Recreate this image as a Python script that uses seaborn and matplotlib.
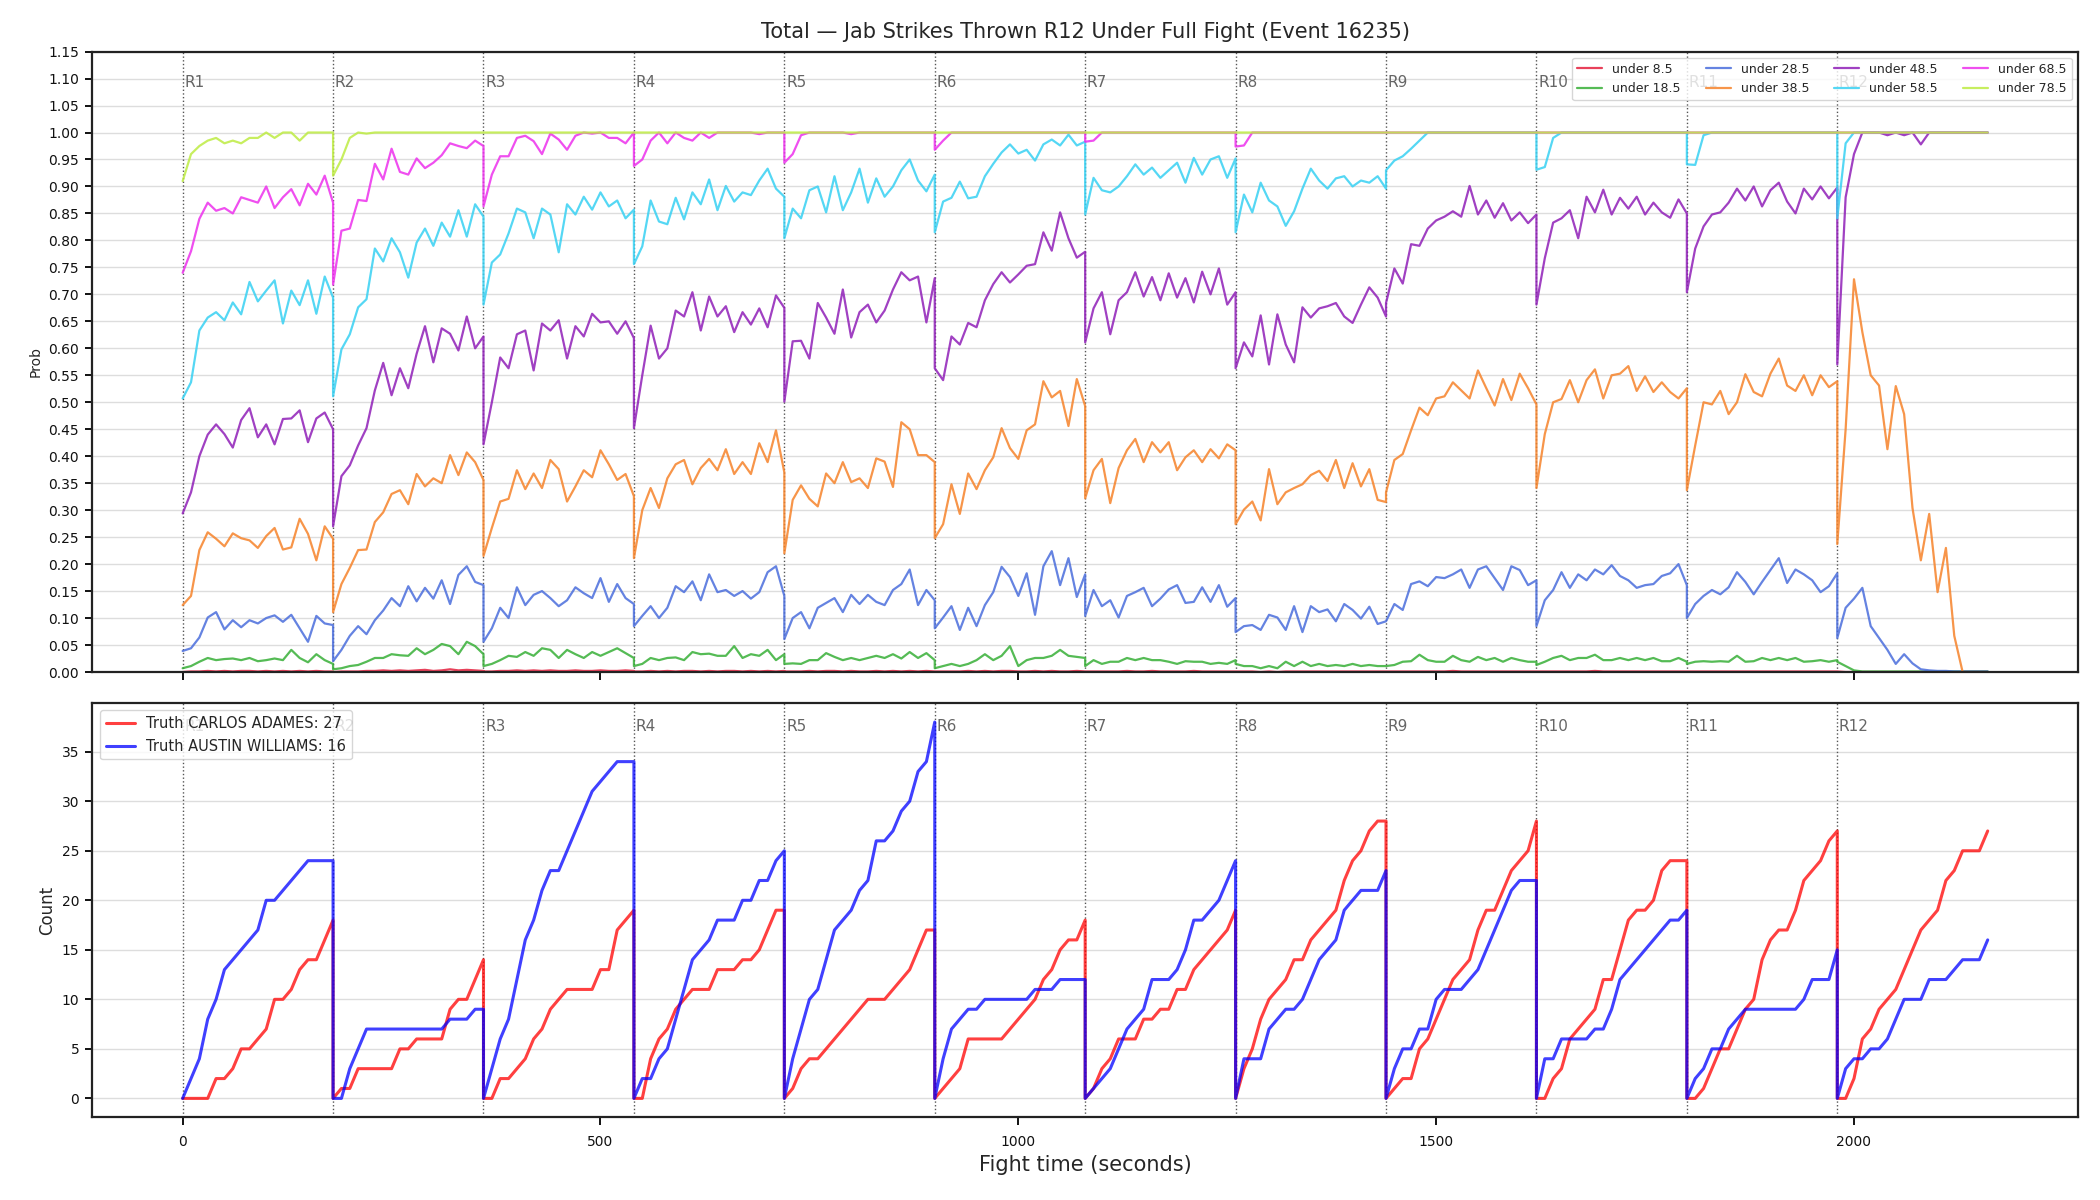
import pandas as pd
import seaborn as sns
import matplotlib.pyplot as plt

# fight structure
round_names = ["R1", "R2", "R3", "R4", "R5", "R6", "R7", "R8", "R9", "R10", "R11", "R12"]
round_len = 180
sample_step = 10
line_labels = ["under 8.5", "under 18.5", "under 28.5", "under 38.5",
               "under 48.5", "under 58.5", "under 68.5", "under 78.5"]
line_colors = ["#e41f3d", "#37af37", "#4a6ddc", "#f6832a",
               "#901fb8", "#37d1f3", "#ed30ed", "#beec43"]
fighter_names = ["CARLOS ADAMES", "AUSTIN WILLIAMS"]

# P(total jabs under line), one list per round, sampled every 10 s
under_8_5 = [
    [0.0, 0.001, 0.001, 0.002, 0.001, 0.002, 0.001, 0.002, 0.002, 0.001, 0.002, 0.001, 0.002, 0.001, 0.002, 0.001, 0.002, 0.001, 0.001],
    [0.0, 0.001, 0.001, 0.001, 0.002, 0.002, 0.003, 0.002, 0.003, 0.002, 0.003, 0.004, 0.002, 0.003, 0.005, 0.003, 0.004, 0.003, 0.002],
    [0.001, 0.001, 0.002, 0.002, 0.003, 0.002, 0.003, 0.002, 0.003, 0.002, 0.002, 0.003, 0.002, 0.002, 0.003, 0.002, 0.002, 0.003, 0.002],
    [0.001, 0.001, 0.002, 0.001, 0.002, 0.001, 0.002, 0.002, 0.001, 0.002, 0.001, 0.002, 0.002, 0.001, 0.002, 0.001, 0.002, 0.001, 0.002],
    [0.001, 0.001, 0.001, 0.002, 0.001, 0.002, 0.002, 0.001, 0.002, 0.001, 0.001, 0.002, 0.001, 0.002, 0.001, 0.002, 0.001, 0.002, 0.001],
    [0.001, 0.001, 0.001, 0.001, 0.002, 0.001, 0.002, 0.001, 0.002, 0.002, 0.001, 0.001, 0.002, 0.001, 0.002, 0.001, 0.001, 0.002, 0.001],
    [0.001, 0.001, 0.001, 0.001, 0.001, 0.002, 0.001, 0.001, 0.002, 0.001, 0.001, 0.001, 0.001, 0.002, 0.001, 0.001, 0.001, 0.001, 0.001],
    [0.001, 0.001, 0.001, 0.0, 0.001, 0.0, 0.001, 0.001, 0.001, 0.001, 0.001, 0.001, 0.001, 0.001, 0.001, 0.001, 0.001, 0.001, 0.001],
    [0.001, 0.001, 0.001, 0.001, 0.001, 0.001, 0.001, 0.001, 0.002, 0.001, 0.001, 0.001, 0.001, 0.001, 0.001, 0.001, 0.001, 0.001, 0.001],
    [0.001, 0.001, 0.001, 0.001, 0.001, 0.001, 0.001, 0.002, 0.001, 0.001, 0.001, 0.001, 0.001, 0.001, 0.001, 0.001, 0.001, 0.001, 0.001],
    [0.001, 0.001, 0.001, 0.001, 0.001, 0.001, 0.001, 0.001, 0.001, 0.001, 0.001, 0.001, 0.001, 0.001, 0.001, 0.001, 0.001, 0.001, 0.001],
    [0.001, 0.0, 0.0, 0.0, 0.0, 0.0, 0.0, 0.0, 0.0, 0.0, 0.0, 0.0, 0.0, 0.0, 0.0, 0.0, 0.0, 0.0, 0.0],
]
under_18_5 = [
    [0.007, 0.011, 0.019, 0.026, 0.022, 0.024, 0.025, 0.022, 0.026, 0.02, 0.022, 0.025, 0.022, 0.041, 0.026, 0.018, 0.033, 0.022, 0.015],
    [0.005, 0.007, 0.011, 0.013, 0.019, 0.026, 0.026, 0.033, 0.031, 0.03, 0.044, 0.033, 0.041, 0.052, 0.048, 0.033, 0.056, 0.048, 0.033],
    [0.011, 0.015, 0.022, 0.03, 0.028, 0.037, 0.03, 0.044, 0.041, 0.026, 0.041, 0.033, 0.026, 0.037, 0.03, 0.037, 0.044, 0.035, 0.026],
    [0.011, 0.015, 0.026, 0.022, 0.026, 0.027, 0.022, 0.037, 0.033, 0.034, 0.03, 0.03, 0.048, 0.026, 0.033, 0.03, 0.041, 0.022, 0.033],
    [0.015, 0.016, 0.015, 0.022, 0.022, 0.035, 0.028, 0.022, 0.026, 0.022, 0.026, 0.03, 0.026, 0.033, 0.025, 0.037, 0.026, 0.035, 0.022],
    [0.007, 0.011, 0.015, 0.011, 0.015, 0.022, 0.033, 0.022, 0.03, 0.048, 0.011, 0.022, 0.026, 0.026, 0.03, 0.041, 0.03, 0.028, 0.026],
    [0.011, 0.022, 0.015, 0.019, 0.019, 0.026, 0.022, 0.026, 0.022, 0.022, 0.019, 0.015, 0.02, 0.019, 0.019, 0.015, 0.017, 0.015, 0.022],
    [0.015, 0.011, 0.011, 0.007, 0.011, 0.007, 0.019, 0.011, 0.019, 0.011, 0.015, 0.011, 0.013, 0.011, 0.015, 0.011, 0.013, 0.011, 0.011],
    [0.011, 0.013, 0.019, 0.02, 0.032, 0.022, 0.019, 0.019, 0.03, 0.022, 0.019, 0.028, 0.022, 0.026, 0.019, 0.026, 0.022, 0.019, 0.019],
    [0.013, 0.019, 0.026, 0.03, 0.022, 0.026, 0.026, 0.032, 0.022, 0.022, 0.026, 0.022, 0.026, 0.022, 0.026, 0.02, 0.02, 0.026, 0.019],
    [0.015, 0.019, 0.02, 0.019, 0.02, 0.019, 0.03, 0.019, 0.02, 0.026, 0.022, 0.026, 0.022, 0.026, 0.019, 0.02, 0.022, 0.019, 0.022],
    [0.019, 0.011, 0.003, 0.001, 0.001, 0.001, 0.001, 0.001, 0.001, 0.001, 0.001, 0.001, 0.001, 0.001, 0.001, 0.001, 0.001, 0.001, 0.001],
]
under_28_5 = [
    [0.039, 0.044, 0.064, 0.101, 0.111, 0.079, 0.096, 0.083, 0.096, 0.09, 0.1, 0.105, 0.093, 0.106, 0.081, 0.056, 0.104, 0.09, 0.087],
    [0.02, 0.041, 0.067, 0.085, 0.07, 0.096, 0.114, 0.137, 0.122, 0.159, 0.131, 0.156, 0.136, 0.17, 0.126, 0.18, 0.196, 0.167, 0.161],
    [0.056, 0.081, 0.119, 0.1, 0.157, 0.124, 0.143, 0.15, 0.137, 0.122, 0.133, 0.157, 0.146, 0.137, 0.174, 0.13, 0.163, 0.137, 0.126],
    [0.085, 0.104, 0.122, 0.1, 0.119, 0.159, 0.148, 0.168, 0.133, 0.181, 0.148, 0.152, 0.141, 0.15, 0.136, 0.148, 0.185, 0.196, 0.141],
    [0.061, 0.1, 0.111, 0.081, 0.119, 0.128, 0.137, 0.111, 0.143, 0.126, 0.143, 0.13, 0.124, 0.152, 0.163, 0.19, 0.124, 0.152, 0.133],
    [0.081, 0.101, 0.122, 0.078, 0.119, 0.085, 0.124, 0.148, 0.195, 0.176, 0.141, 0.183, 0.106, 0.196, 0.224, 0.161, 0.211, 0.139, 0.181],
    [0.104, 0.152, 0.122, 0.133, 0.101, 0.141, 0.148, 0.156, 0.122, 0.136, 0.153, 0.161, 0.128, 0.13, 0.157, 0.13, 0.161, 0.121, 0.137],
    [0.074, 0.085, 0.087, 0.078, 0.106, 0.101, 0.078, 0.122, 0.074, 0.122, 0.111, 0.116, 0.094, 0.126, 0.115, 0.099, 0.121, 0.089, 0.094],
    [0.094, 0.126, 0.115, 0.163, 0.168, 0.159, 0.176, 0.174, 0.181, 0.19, 0.156, 0.19, 0.196, 0.174, 0.152, 0.196, 0.189, 0.161, 0.17],
    [0.085, 0.133, 0.152, 0.185, 0.156, 0.181, 0.17, 0.19, 0.181, 0.198, 0.178, 0.17, 0.156, 0.161, 0.163, 0.178, 0.183, 0.2, 0.161],
    [0.1, 0.126, 0.141, 0.152, 0.144, 0.157, 0.185, 0.167, 0.144, 0.167, 0.189, 0.211, 0.165, 0.19, 0.181, 0.17, 0.148, 0.159, 0.183],
    [0.063, 0.119, 0.136, 0.156, 0.085, 0.063, 0.041, 0.015, 0.033, 0.016, 0.005, 0.003, 0.002, 0.002, 0.001, 0.001, 0.001, 0.001, 0.001],
]
under_38_5 = [
    [0.124, 0.141, 0.226, 0.259, 0.247, 0.233, 0.257, 0.248, 0.244, 0.23, 0.252, 0.267, 0.227, 0.231, 0.284, 0.256, 0.207, 0.27, 0.247],
    [0.111, 0.163, 0.193, 0.226, 0.227, 0.278, 0.296, 0.33, 0.337, 0.311, 0.367, 0.344, 0.359, 0.35, 0.402, 0.365, 0.407, 0.389, 0.356],
    [0.215, 0.267, 0.316, 0.321, 0.374, 0.339, 0.368, 0.341, 0.393, 0.376, 0.316, 0.344, 0.374, 0.361, 0.411, 0.385, 0.356, 0.367, 0.326],
    [0.211, 0.3, 0.341, 0.304, 0.359, 0.385, 0.393, 0.348, 0.378, 0.395, 0.374, 0.413, 0.367, 0.389, 0.367, 0.424, 0.389, 0.448, 0.37],
    [0.22, 0.319, 0.346, 0.321, 0.307, 0.368, 0.35, 0.389, 0.352, 0.359, 0.341, 0.396, 0.39, 0.343, 0.463, 0.45, 0.402, 0.402, 0.389],
    [0.248, 0.274, 0.348, 0.293, 0.368, 0.339, 0.374, 0.398, 0.452, 0.415, 0.395, 0.448, 0.459, 0.539, 0.509, 0.521, 0.456, 0.543, 0.493],
    [0.322, 0.374, 0.395, 0.313, 0.378, 0.411, 0.432, 0.389, 0.426, 0.407, 0.426, 0.374, 0.398, 0.411, 0.389, 0.413, 0.396, 0.422, 0.411],
    [0.274, 0.301, 0.316, 0.281, 0.376, 0.311, 0.333, 0.341, 0.348, 0.365, 0.373, 0.354, 0.393, 0.341, 0.387, 0.344, 0.376, 0.319, 0.315],
    [0.333, 0.393, 0.404, 0.448, 0.49, 0.476, 0.507, 0.511, 0.537, 0.522, 0.507, 0.559, 0.526, 0.494, 0.543, 0.504, 0.553, 0.526, 0.496],
    [0.341, 0.441, 0.5, 0.506, 0.541, 0.5, 0.541, 0.561, 0.507, 0.55, 0.553, 0.567, 0.521, 0.548, 0.519, 0.537, 0.519, 0.507, 0.526],
    [0.337, 0.42, 0.5, 0.496, 0.521, 0.478, 0.5, 0.552, 0.519, 0.511, 0.553, 0.581, 0.531, 0.521, 0.55, 0.513, 0.55, 0.528, 0.539],
    [0.237, 0.45, 0.728, 0.63, 0.55, 0.531, 0.413, 0.53, 0.478, 0.304, 0.207, 0.293, 0.148, 0.23, 0.067, 0.0, 0.0, 0.0, 0.0],
]
under_48_5 = [
    [0.294, 0.333, 0.4, 0.44, 0.459, 0.441, 0.416, 0.467, 0.489, 0.435, 0.459, 0.422, 0.469, 0.47, 0.485, 0.426, 0.47, 0.481, 0.45],
    [0.27, 0.363, 0.383, 0.42, 0.452, 0.522, 0.573, 0.513, 0.563, 0.526, 0.59, 0.641, 0.574, 0.637, 0.627, 0.596, 0.659, 0.6, 0.622],
    [0.422, 0.5, 0.583, 0.563, 0.626, 0.633, 0.559, 0.646, 0.633, 0.652, 0.581, 0.641, 0.622, 0.664, 0.648, 0.65, 0.627, 0.65, 0.619],
    [0.452, 0.55, 0.642, 0.581, 0.6, 0.67, 0.659, 0.704, 0.633, 0.696, 0.659, 0.678, 0.63, 0.667, 0.644, 0.674, 0.639, 0.698, 0.675],
    [0.501, 0.613, 0.614, 0.581, 0.684, 0.657, 0.627, 0.709, 0.62, 0.667, 0.681, 0.648, 0.67, 0.709, 0.741, 0.726, 0.733, 0.648, 0.73],
    [0.563, 0.541, 0.622, 0.607, 0.647, 0.639, 0.689, 0.719, 0.741, 0.722, 0.737, 0.753, 0.756, 0.815, 0.781, 0.852, 0.804, 0.768, 0.779],
    [0.611, 0.674, 0.704, 0.626, 0.689, 0.704, 0.741, 0.696, 0.732, 0.689, 0.739, 0.694, 0.73, 0.685, 0.742, 0.7, 0.748, 0.681, 0.704],
    [0.563, 0.611, 0.585, 0.661, 0.57, 0.663, 0.607, 0.574, 0.676, 0.657, 0.674, 0.678, 0.684, 0.659, 0.647, 0.681, 0.713, 0.694, 0.659],
    [0.684, 0.748, 0.72, 0.793, 0.79, 0.822, 0.837, 0.844, 0.854, 0.844, 0.901, 0.848, 0.874, 0.842, 0.869, 0.837, 0.852, 0.832, 0.848],
    [0.681, 0.767, 0.833, 0.841, 0.856, 0.804, 0.881, 0.852, 0.894, 0.848, 0.879, 0.859, 0.881, 0.848, 0.87, 0.852, 0.842, 0.876, 0.85],
    [0.704, 0.785, 0.826, 0.848, 0.852, 0.87, 0.896, 0.874, 0.9, 0.863, 0.893, 0.907, 0.872, 0.85, 0.896, 0.876, 0.9, 0.878, 0.898],
    [0.57, 0.88, 0.96, 1.0, 1.0, 1.0, 0.995, 1.0, 0.995, 1.0, 0.978, 1.0, 1.0, 1.0, 1.0, 1.0, 1.0, 1.0, 1.0],
]
under_58_5 = [
    [0.507, 0.537, 0.633, 0.657, 0.667, 0.652, 0.685, 0.663, 0.723, 0.687, 0.707, 0.726, 0.646, 0.707, 0.68, 0.726, 0.664, 0.733, 0.694],
    [0.511, 0.598, 0.626, 0.676, 0.691, 0.785, 0.761, 0.804, 0.778, 0.731, 0.796, 0.822, 0.79, 0.833, 0.807, 0.856, 0.807, 0.867, 0.844],
    [0.681, 0.759, 0.774, 0.813, 0.859, 0.852, 0.804, 0.859, 0.848, 0.778, 0.867, 0.848, 0.881, 0.857, 0.889, 0.863, 0.874, 0.841, 0.857],
    [0.756, 0.789, 0.874, 0.835, 0.83, 0.879, 0.839, 0.889, 0.867, 0.913, 0.856, 0.901, 0.872, 0.889, 0.884, 0.911, 0.933, 0.896, 0.881],
    [0.804, 0.859, 0.841, 0.893, 0.9, 0.852, 0.919, 0.856, 0.889, 0.933, 0.87, 0.915, 0.881, 0.9, 0.93, 0.95, 0.911, 0.891, 0.922],
    [0.815, 0.872, 0.879, 0.909, 0.878, 0.881, 0.919, 0.942, 0.963, 0.978, 0.961, 0.968, 0.948, 0.978, 0.987, 0.976, 0.996, 0.976, 0.983],
    [0.848, 0.916, 0.893, 0.889, 0.9, 0.919, 0.941, 0.922, 0.935, 0.916, 0.93, 0.944, 0.907, 0.953, 0.922, 0.95, 0.956, 0.916, 0.952],
    [0.815, 0.885, 0.852, 0.907, 0.874, 0.863, 0.827, 0.854, 0.896, 0.933, 0.911, 0.896, 0.915, 0.919, 0.9, 0.911, 0.907, 0.919, 0.896],
    [0.93, 0.948, 0.956, 0.97, 0.985, 1.0, 1.0, 1.0, 1.0, 1.0, 1.0, 1.0, 1.0, 1.0, 1.0, 1.0, 1.0, 1.0, 1.0],
    [0.931, 0.936, 0.99, 1.0, 1.0, 1.0, 1.0, 1.0, 1.0, 1.0, 1.0, 1.0, 1.0, 1.0, 1.0, 1.0, 1.0, 1.0, 1.0],
    [0.941, 0.94, 0.995, 1.0, 1.0, 1.0, 1.0, 1.0, 1.0, 1.0, 1.0, 1.0, 1.0, 1.0, 1.0, 1.0, 1.0, 1.0, 1.0],
    [0.841, 0.98, 1.0, 1.0, 1.0, 1.0, 1.0, 1.0, 1.0, 1.0, 1.0, 1.0, 1.0, 1.0, 1.0, 1.0, 1.0, 1.0, 1.0],
]
under_68_5 = [
    [0.74, 0.78, 0.84, 0.87, 0.855, 0.86, 0.85, 0.88, 0.875, 0.87, 0.9, 0.86, 0.88, 0.895, 0.865, 0.905, 0.885, 0.92, 0.87],
    [0.718, 0.818, 0.822, 0.875, 0.873, 0.942, 0.913, 0.97, 0.927, 0.922, 0.952, 0.934, 0.944, 0.958, 0.98, 0.975, 0.971, 0.985, 0.975],
    [0.863, 0.922, 0.956, 0.956, 0.99, 0.994, 0.984, 0.96, 0.998, 0.987, 0.968, 0.994, 1.0, 0.998, 1.0, 0.99, 0.99, 0.98, 1.0],
    [0.938, 0.95, 0.985, 1.0, 0.98, 1.0, 0.99, 0.985, 1.0, 0.99, 1.0, 1.0, 1.0, 1.0, 1.0, 0.997, 1.0, 1.0, 1.0],
    [0.944, 0.96, 0.995, 1.0, 1.0, 1.0, 1.0, 1.0, 0.997, 1.0, 1.0, 1.0, 1.0, 1.0, 1.0, 1.0, 1.0, 1.0, 1.0],
    [0.968, 0.985, 1.0, 1.0, 1.0, 1.0, 1.0, 1.0, 1.0, 1.0, 1.0, 1.0, 1.0, 1.0, 1.0, 1.0, 1.0, 1.0, 1.0],
    [0.983, 0.985, 1.0, 1.0, 1.0, 1.0, 1.0, 1.0, 1.0, 1.0, 1.0, 1.0, 1.0, 1.0, 1.0, 1.0, 1.0, 1.0, 1.0],
    [0.974, 0.976, 1.0, 1.0, 1.0, 1.0, 1.0, 1.0, 1.0, 1.0, 1.0, 1.0, 1.0, 1.0, 1.0, 1.0, 1.0, 1.0, 1.0],
    [1.0, 1.0, 1.0, 1.0, 1.0, 1.0, 1.0, 1.0, 1.0, 1.0, 1.0, 1.0, 1.0, 1.0, 1.0, 1.0, 1.0, 1.0, 1.0],
    [1.0, 1.0, 1.0, 1.0, 1.0, 1.0, 1.0, 1.0, 1.0, 1.0, 1.0, 1.0, 1.0, 1.0, 1.0, 1.0, 1.0, 1.0, 1.0],
    [1.0, 1.0, 1.0, 1.0, 1.0, 1.0, 1.0, 1.0, 1.0, 1.0, 1.0, 1.0, 1.0, 1.0, 1.0, 1.0, 1.0, 1.0, 1.0],
    [1.0, 1.0, 1.0, 1.0, 1.0, 1.0, 1.0, 1.0, 1.0, 1.0, 1.0, 1.0, 1.0, 1.0, 1.0, 1.0, 1.0, 1.0, 1.0],
]
under_78_5 = [
    [0.91, 0.96, 0.975, 0.985, 0.99, 0.98, 0.985, 0.98, 0.99, 0.99, 1.0, 0.99, 1.0, 1.0, 0.985, 1.0, 1.0, 1.0, 1.0],
    [0.92, 0.95, 0.99, 1.0, 0.998, 1.0, 1.0, 1.0, 1.0, 1.0, 1.0, 1.0, 1.0, 1.0, 1.0, 1.0, 1.0, 1.0, 1.0],
    [1.0, 1.0, 1.0, 1.0, 1.0, 1.0, 1.0, 1.0, 1.0, 1.0, 1.0, 1.0, 1.0, 1.0, 1.0, 1.0, 1.0, 1.0, 1.0],
    [1.0, 1.0, 1.0, 1.0, 1.0, 1.0, 1.0, 1.0, 1.0, 1.0, 1.0, 1.0, 1.0, 1.0, 1.0, 1.0, 1.0, 1.0, 1.0],
    [1.0, 1.0, 1.0, 1.0, 1.0, 1.0, 1.0, 1.0, 1.0, 1.0, 1.0, 1.0, 1.0, 1.0, 1.0, 1.0, 1.0, 1.0, 1.0],
    [1.0, 1.0, 1.0, 1.0, 1.0, 1.0, 1.0, 1.0, 1.0, 1.0, 1.0, 1.0, 1.0, 1.0, 1.0, 1.0, 1.0, 1.0, 1.0],
    [1.0, 1.0, 1.0, 1.0, 1.0, 1.0, 1.0, 1.0, 1.0, 1.0, 1.0, 1.0, 1.0, 1.0, 1.0, 1.0, 1.0, 1.0, 1.0],
    [1.0, 1.0, 1.0, 1.0, 1.0, 1.0, 1.0, 1.0, 1.0, 1.0, 1.0, 1.0, 1.0, 1.0, 1.0, 1.0, 1.0, 1.0, 1.0],
    [1.0, 1.0, 1.0, 1.0, 1.0, 1.0, 1.0, 1.0, 1.0, 1.0, 1.0, 1.0, 1.0, 1.0, 1.0, 1.0, 1.0, 1.0, 1.0],
    [1.0, 1.0, 1.0, 1.0, 1.0, 1.0, 1.0, 1.0, 1.0, 1.0, 1.0, 1.0, 1.0, 1.0, 1.0, 1.0, 1.0, 1.0, 1.0],
    [1.0, 1.0, 1.0, 1.0, 1.0, 1.0, 1.0, 1.0, 1.0, 1.0, 1.0, 1.0, 1.0, 1.0, 1.0, 1.0, 1.0, 1.0, 1.0],
    [1.0, 1.0, 1.0, 1.0, 1.0, 1.0, 1.0, 1.0, 1.0, 1.0, 1.0, 1.0, 1.0, 1.0, 1.0, 1.0, 1.0, 1.0, 1.0],
]

# cumulative jab counts within each round (truth), every 10 s
adames_counts = [
    [0, 0, 0, 0, 2, 2, 3, 5, 5, 6, 7, 10, 10, 11, 13, 14, 14, 16, 18],
    [0, 1, 1, 3, 3, 3, 3, 3, 5, 5, 6, 6, 6, 6, 9, 10, 10, 12, 14],
    [0, 0, 2, 2, 3, 4, 6, 7, 9, 10, 11, 11, 11, 11, 13, 13, 17, 18, 19],
    [0, 0, 4, 6, 7, 9, 10, 11, 11, 11, 13, 13, 13, 14, 14, 15, 17, 19, 19],
    [0, 1, 3, 4, 4, 5, 6, 7, 8, 9, 10, 10, 10, 11, 12, 13, 15, 17, 17],
    [0, 1, 2, 3, 6, 6, 6, 6, 6, 7, 8, 9, 10, 12, 13, 15, 16, 16, 18],
    [0, 1, 3, 4, 6, 6, 6, 8, 8, 9, 9, 11, 11, 13, 14, 15, 16, 17, 19],
    [0, 3, 5, 8, 10, 11, 12, 14, 14, 16, 17, 18, 19, 22, 24, 25, 27, 28, 28],
    [0, 1, 2, 2, 5, 6, 8, 10, 12, 13, 14, 17, 19, 19, 21, 23, 24, 25, 28],
    [0, 0, 2, 3, 6, 7, 8, 9, 12, 12, 15, 18, 19, 19, 20, 23, 24, 24, 24],
    [0, 0, 1, 3, 5, 5, 7, 9, 10, 14, 16, 17, 17, 19, 22, 23, 24, 26, 27],
    [0, 0, 2, 6, 7, 9, 10, 11, 13, 15, 17, 18, 19, 22, 23, 25, 25, 25, 27],
]
williams_counts = [
    [0, 2, 4, 8, 10, 13, 14, 15, 16, 17, 20, 20, 21, 22, 23, 24, 24, 24, 24],
    [0, 0, 3, 5, 7, 7, 7, 7, 7, 7, 7, 7, 7, 7, 8, 8, 8, 9, 9],
    [0, 3, 6, 8, 12, 16, 18, 21, 23, 23, 25, 27, 29, 31, 32, 33, 34, 34, 34],
    [0, 2, 2, 4, 5, 8, 11, 14, 15, 16, 18, 18, 18, 20, 20, 22, 22, 24, 25],
    [0, 4, 7, 10, 11, 14, 17, 18, 19, 21, 22, 26, 26, 27, 29, 30, 33, 34, 38],
    [0, 4, 7, 8, 9, 9, 10, 10, 10, 10, 10, 10, 11, 11, 11, 12, 12, 12, 12],
    [0, 1, 2, 3, 5, 7, 8, 9, 12, 12, 12, 13, 15, 18, 18, 19, 20, 22, 24],
    [0, 4, 4, 4, 7, 8, 9, 9, 10, 12, 14, 15, 16, 19, 20, 21, 21, 21, 23],
    [0, 3, 5, 5, 7, 7, 10, 11, 11, 11, 12, 13, 15, 17, 19, 21, 22, 22, 22],
    [0, 4, 4, 6, 6, 6, 6, 7, 7, 9, 12, 13, 14, 15, 16, 17, 18, 18, 19],
    [0, 2, 3, 5, 5, 7, 8, 9, 9, 9, 9, 9, 9, 9, 10, 12, 12, 12, 15],
    [0, 3, 4, 4, 5, 5, 6, 8, 10, 10, 10, 12, 12, 12, 13, 14, 14, 14, 16],
]

prob_series = [under_8_5, under_18_5, under_28_5, under_38_5,
               under_48_5, under_58_5, under_68_5, under_78_5]


def to_long(per_round_values, name):
    rows = []
    for r, vals in enumerate(per_round_values):
        for k, v in enumerate(vals):
            rows.append({"time": r * round_len + k * sample_step, "value": v, "series": name})
    return rows


prob_rows = []
for label, series in zip(line_labels, prob_series):
    prob_rows += to_long(series, label)
prob_df = pd.DataFrame(prob_rows)

truth_labels = [f"Truth {fighter_names[0]}: {adames_counts[-1][-1]}",
                f"Truth {fighter_names[1]}: {williams_counts[-1][-1]}"]
count_df = pd.DataFrame(to_long(adames_counts, truth_labels[0]) + to_long(williams_counts, truth_labels[1]))

sns.set_style("ticks")
plt.rcParams["font.family"] = ["DejaVu Sans"]
plt.rcParams["axes.edgecolor"] = "#222222"
plt.rcParams["axes.linewidth"] = 1.6
plt.rcParams["xtick.major.width"] = 1.4
plt.rcParams["ytick.major.width"] = 1.4
plt.rcParams["xtick.major.size"] = 6
plt.rcParams["ytick.major.size"] = 5
plt.rcParams["xtick.major.pad"] = 7
plt.rcParams["ytick.major.pad"] = 4.5
plt.rcParams["xtick.color"] = "#111111"
plt.rcParams["ytick.color"] = "#111111"

fig = plt.figure(figsize=(21, 12), dpi=100)
ax1 = fig.add_axes([0.044, 0.44, 0.9455, 0.517])
ax2 = fig.add_axes([0.044, 0.069, 0.9455, 0.345], sharex=ax1)

sns.lineplot(data=prob_df, x="time", y="value", hue="series", palette=line_colors,
             estimator=None, sort=False, lw=1.6, alpha=0.85, ax=ax1)
sns.lineplot(data=count_df, x="time", y="value", hue="series", palette=["red", "blue"],
             estimator=None, sort=False, lw=2.2, alpha=0.75, ax=ax2)

for ax in (ax1, ax2):
    ax.grid(axis="y", color="#dddddd", lw=1)
    ax.set_axisbelow(True)
    for r, name in enumerate(round_names):
        ax.axvline(r * round_len, color="#555555", ls=":", lw=1, zorder=1)
        ax.text(r * round_len + 2, 0.962, name, transform=ax.get_xaxis_transform(),
                ha="left", va="top", fontsize=11, color="#666666", zorder=2)

ax1.set_ylim(0, 1.15)
ax1.set_yticks([i * 0.05 for i in range(24)])
ax1.set_yticklabels([f"{i * 0.05:.2f}" for i in range(24)])
ax1.tick_params(labelbottom=False)
ax1.set_xlabel("")
ax1.set_ylabel("Prob", fontsize=10)
ax1.set_title("Total — Jab Strikes Thrown R12 Under Full Fight (Event 16235)", fontsize=15, pad=10)
sns.move_legend(ax1, "upper right", ncol=4, fontsize=9, title=None)

ax2.set_ylabel("Count", fontsize=12)
ax2.set_xlabel("Fight time (seconds)", fontsize=15)
sns.move_legend(ax2, "upper left", fontsize=10.5, title=None)

fig.savefig("out.png", dpi=100)
